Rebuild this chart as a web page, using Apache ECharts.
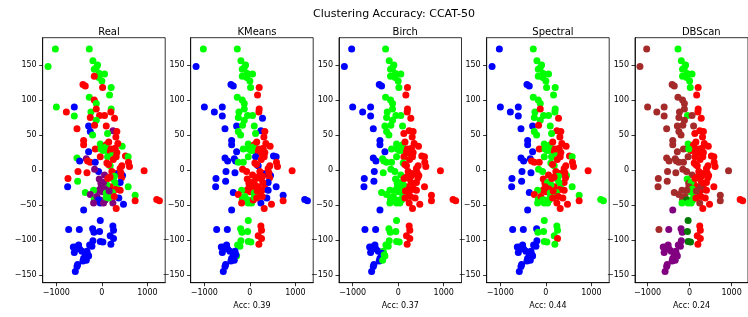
<!DOCTYPE html>
<html><head><meta charset="utf-8">
<script src="https://cdn.jsdelivr.net/npm/echarts@6/dist/echarts.min.js"></script>
<style>html,body{margin:0;padding:0;background:#fff}#c{width:748px;height:317px}</style>
</head><body><div id="c"></div>
<script>
const xs=[-1022,-277,-1182,-197,-95,-168,-124,-58,58,-66,
0,-168,-416,-365,15,204,168,-277,-168,-124,
-1000,-606,-781,-606,-241,204,-124,197,-255,-51,
58,277,-124,-547,-292,-255,-204,-161,95,241,
124,328,307,-401,-401,-36,95,445,80,-146,
-292,109,292,182,241,328,124,314,518,577,
-36,-547,-489,-343,-314,-255,-146,109,584,438,
606,182,146,-745,-525,-328,-73,-161,219,292,
365,453,416,431,927,277,58,-533,-752,401,
-58,-22,241,285,182,109,328,299,401,577,
36,-15,7,66,-66,95,-365,-182,-255,-168,
-110,-36,-73,-36,36,73,-182,241,372,474,
730,730,1204,1263,314,-401,95,150,200,250,
180,230,150,30,-20,400,350,270,130,160,
-36,-730,-496,-204,-175,-51,241,255,182,255,
-36,-197,-511,-628,-569,-489,-438,-219,-270,197,
-606,-328,-365,-292,-401,-416,-343,-533,-547,-584,
22,-307];
const ys=[173,173,148,156,150,144,146,138,137,132,
127,134,122,120,118,118,107,104,100,95,
90,90,83,77,83,87,87,83,75,78,
78,74,71,59,63,55,50,64,63,56,
52,55,47,42,36,37,36,34,33,30,
26,28,31,26,24,25,19,19,20,19,
19,17,13,16,13,11,11,10,11,6,
5,6,8,-12,-2,-4,-2,1,-2,-5,
-5,-8,-4,-11,-1,-9,-7,-16,-24,-18,
-13,-19,-12,-18,-24,-21,-26,-28,-29,-24,
-18,-24,-31,-27,-29,-33,-32,-29,-35,-42,
-38,-43,-43,-47,-47,-43,-47,-47,-40,-49,
-36,-44,-42,-44,-55,-57,-39,40,30,15,
-10,-32,-40,28,30,2,38,-38,-12,-30,
-72,-85,-85,-84,-89,-88,-80,-86,-94,-98,
-102,-101,-107,-110,-110,-113,-116,-109,-107,-106,
-118,-116,-119,-123,-126,-130,-129,-135,-138,-145,
-103,-121];
// one colour code per point: g lime, r red, b blue, p purple, n brown, d dark green
const realLabels='gggggggggg'+'grrrrgggrg'+'gbrgggrrrr'+'rrgrbbgrrp'+'grrrrgrggr'+'bgrrgrgrrg'+'rgbprrbrrr'+'rgrrrrbprr'+'bbrrrgpgbb'+'ppggrggrrg'+'pppppgggpg'+'ppbbppppbb'+'grrrrbgrrr'+'rggggrrrrp'+'bbbbbbbbbb'+'bbbbbbbbbb'+'bbbbbbbbbb'+'bb';
const kmeansLabels='ggbggggggg'+'ggbbgrrggg'+'bbbbgrgrgg'+'gbgbbggggb'+'grrbbgrrgg'+'bgrrrrbrbb'+'gbbbbggrrr'+'rbrbbbrrrr'+'bbrrrrrbbb'+'rrrrrrrrbb'+'rrrrrgbgrg'+'gggggrrbbr'+'brbbrbgrrr'+'rrrggrrrrr'+'gbbgggrrrr'+'ggbbbbbggr'+'bbbgbbbbbb'+'gb';
const birchLabels='bgbggggggg'+'ggbbgrrggg'+'bbbbgrgrgg'+'grgbgggggr'+'rrrbbggrgg'+'bgrrrrrrrr'+'gbbgggggrr'+'rrrbbgggrr'+'rrrrrrgbbr'+'ggrrrgrrrr'+'gggggggggg'+'gggggggrrr'+'rrrrrbgrrr'+'rrrggrrrrr'+'gbbgggrrrr'+'ggbbbbbggr'+'bgbgbbgbbb'+'gg';
const spectralLabels='bgbggggggg'+'ggbbgggggg'+'bbbbggrggg'+'grgbbggrgr'+'grrbbggrgr'+'bgrrgrgrrg'+'gbbbrrrgrr'+'rgrbbbggrr'+'rgrrrgrbbr'+'rrggrggrrg'+'grrrrgbgrg'+'rggggggrrr'+'grggrbgrrr'+'rgrggrrrrr'+'gbbbgggggr'+'gbbbbbbbbg'+'bbbbbbbbbb'+'gb';
const dbscanLabels='ngnggggggg'+'ggnngrrnnn'+'nnnnnrnrng'+'nrnnnnnnnr'+'rrrnngrrrn'+'nrrrrrrrrr'+'nnnnnnnrrr'+'rrrnnnnnrr'+'rrrrnrnnnr'+'gnrrnrrnrr'+'gnggngnnnn'+'ngdggggnrr'+'nnrrrpgrrr'+'rrrrgrrrrn'+'dnpppdrrrr'+'dppppppppr'+'pppppppppp'+'dp';
const panelTitles=['Real','KMeans','Birch','Spectral','DBScan'];
const accLabels=['','Acc: 0.39','Acc: 0.37','Acc: 0.44','Acc: 0.24'];
const xTicks=[-1000,0,1000];
const yTicks=[-150,-100,-50,0,50,100,150];
const suptitle='Clustering Accuracy: CCAT-50';

const labelSets=[realLabels,kmeansLabels,birchLabels,spectralLabels,dbscanLabels];
const colorMap={g:'#00ff00',r:'#ff0000',b:'#0000ff',p:'#800080',n:'#a52a2a',d:'#007a00'};
const lefts=[42.7,190.7,339,486.7,635];
const W=122.5, TOP=37.7, H=245;
const FONT='DejaVu Sans';
const minus=v=>String(v).replace('-','\u2212');
const line={show:true,onZero:false,lineStyle:{color:'#000',width:0.8}};

const grids=[],xAxes=[],yAxes=[],series=[],titles=[];
titles.push({text:suptitle,left:389,top:4,textAlign:'center',textStyle:{fontFamily:FONT,fontSize:11,fontWeight:'normal',color:'#000'}});
for(let i=0;i<5;i++){
  grids.push({left:lefts[i],top:TOP,width:W,height:H,show:true,borderColor:'#000',borderWidth:0.8,backgroundColor:'transparent'});
  titles.push({text:panelTitles[i],left:lefts[i]+W/2,top:22,textAlign:'center',textStyle:{fontFamily:FONT,fontSize:10,fontWeight:'normal',color:'#000'}});
  xAxes.push({type:'value',gridIndex:i,min:-1300,max:1390,position:'bottom',
    axisLine:line,splitLine:{show:false},
    axisTick:{show:true,inside:false,customValues:xTicks,length:3.5,lineStyle:{color:'#000',width:0.8}},
    axisLabel:{customValues:xTicks,fontFamily:FONT,fontSize:8,color:'#000',margin:6,formatter:minus},
    name:accLabels[i],nameLocation:'middle',nameGap:17,
    nameTextStyle:{fontFamily:FONT,fontSize:8,color:'#000'}});
  yAxes.push({type:'value',gridIndex:i,min:-161,max:189,position:'left',
    axisLine:line,splitLine:{show:false},
    axisTick:{show:true,inside:false,customValues:yTicks,length:3.5,lineStyle:{color:'#000',width:0.8}},
    axisLabel:{customValues:yTicks,fontFamily:FONT,fontSize:8,color:'#000',margin:6,formatter:minus}});
  const labs=labelSets[i];
  series.push({type:'scatter',xAxisIndex:i,yAxisIndex:i,symbolSize:7,
    data:xs.map((x,k)=>[x,ys[k],labs[k]]),
    itemStyle:{opacity:1,color:p=>colorMap[p.value[2]]},
    emphasis:{disabled:true},silent:true});
}
const chart=echarts.init(document.getElementById('c'),null,{renderer:'canvas'});
chart.setOption({animation:false,backgroundColor:'#fff',title:titles,grid:grids,xAxis:xAxes,yAxis:yAxes,series:series});
</script></body></html>
